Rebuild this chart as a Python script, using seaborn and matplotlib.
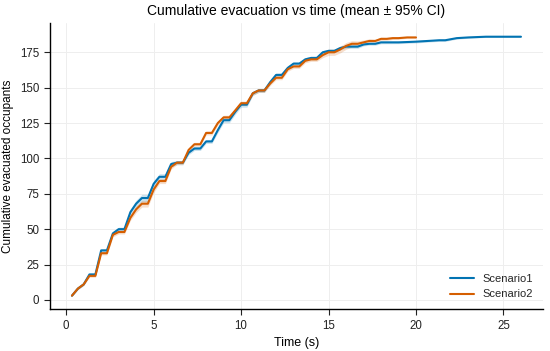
import numpy as np
import pandas as pd
import matplotlib
matplotlib.use("Agg")
import matplotlib.pyplot as plt
import seaborn as sns

# mean cumulative evacuated occupants
t1 = [0.33, 0.67, 1.0, 1.33, 1.67, 2.0, 2.33, 2.67, 3.0, 3.33, 3.67, 4.0, 4.33, 4.67,
      5.0, 5.33, 5.67, 6.0, 6.33, 6.67, 7.0, 7.33, 7.67, 8.0, 8.33, 8.67, 9.0, 9.33,
      9.67, 10.0, 10.33, 10.67, 11.0, 11.33, 11.67, 12.0, 12.33, 12.67, 13.0, 13.33,
      13.67, 14.0, 14.33, 14.67, 15.0, 15.33, 15.67, 16.0, 16.33, 16.67, 17.0, 17.33,
      17.67, 18.0, 19.0, 20.0, 20.67, 21.33, 21.67, 22.33, 23.0, 24.0, 25.0, 26.0]
s1 = [3, 8, 11, 18, 18, 35, 35, 47, 50, 50, 62, 68, 72, 72,
      82, 87, 87, 96, 97, 97, 104, 107, 107, 112, 112, 120, 127, 127,
      133, 138, 138, 146, 148, 148, 154, 159, 159, 164, 167, 167,
      170, 171, 171, 175, 176, 176, 178, 179, 179, 179, 180.5, 181,
      181, 182, 182, 182.5, 183, 183.5, 183.5, 185, 185.5, 186, 186, 186]
ci1 = [0.5, 0.7, 0.8, 1.0, 1.0, 1.2, 1.2, 1.4, 1.4, 1.4, 2.2, 2.5, 2.6, 2.6,
       2.4, 2.2, 2.2, 1.8, 1.5, 1.5, 1.4, 1.4, 1.4, 1.4, 1.4, 1.8, 1.8, 1.8,
       1.8, 1.8, 1.8, 1.5, 1.4, 1.4, 1.4, 1.4, 1.4, 1.2, 1.2, 1.2,
       1.2, 1.2, 1.2, 1.2, 1.2, 1.2, 1.2, 1.2, 1.2, 1.2, 1.0, 1.0,
       1.0, 1.0, 0.9, 0.9, 0.8, 0.8, 0.8, 0.7, 0.6, 0.5, 0.5, 0.5]

t2 = [0.33, 0.67, 1.0, 1.33, 1.67, 2.0, 2.33, 2.67, 3.0, 3.33, 3.67, 4.0, 4.33, 4.67,
      5.0, 5.33, 5.67, 6.0, 6.33, 6.67, 7.0, 7.33, 7.67, 8.0, 8.33, 8.67, 9.0, 9.33,
      9.67, 10.0, 10.33, 10.67, 11.0, 11.33, 11.67, 12.0, 12.33, 12.67, 13.0, 13.33,
      13.67, 14.0, 14.33, 14.67, 15.0, 15.33, 15.67, 16.0, 16.33, 16.67, 17.0, 17.33,
      17.67, 18.0, 18.33, 18.67, 19.0, 19.5, 20.0]
s2 = [3, 8, 11, 17, 17, 33, 33, 46, 48, 48, 58, 64, 68, 68,
      78, 84, 84, 94, 97, 97, 106, 110, 110, 118, 118, 125, 129, 129,
      134, 139, 139, 146, 148, 148, 153, 157, 157, 163, 165, 165,
      169, 170, 170, 173, 175, 175, 177, 179.5, 181, 181, 182, 183,
      183, 184.5, 184.5, 185, 185, 185.5, 185.5]
ci2 = [0.5, 0.7, 0.8, 1.0, 1.0, 1.2, 1.2, 1.4, 1.4, 1.4, 1.8, 2.2, 2.4, 2.4,
       2.2, 1.8, 1.8, 1.5, 1.4, 1.4, 1.4, 1.4, 1.4, 1.4, 1.4, 1.5, 1.5, 1.5,
       1.5, 1.5, 1.5, 1.4, 1.4, 1.4, 1.4, 1.4, 1.4, 1.4, 1.4, 1.4,
       1.4, 1.4, 1.4, 1.8, 2.2, 2.2, 2.4, 2.4, 2.2, 2.0, 1.7, 1.5,
       1.2, 1.1, 1.0, 0.9, 0.8, 0.6, 0.6]

names = ["Scenario1", "Scenario2"]
colors = ["#0173B2", "#D55E00"]

df = pd.concat([
    pd.DataFrame({"time": t1, "mean": s1, "ci": ci1, "scenario": names[0]}),
    pd.DataFrame({"time": t2, "mean": s2, "ci": ci2, "scenario": names[1]}),
])

sns.set_style("whitegrid")
plt.rcParams["font.family"] = ["Liberation Sans", "DejaVu Sans"]

fig, ax = plt.subplots(figsize=(5.5, 3.51), dpi=100)
sns.lineplot(data=df, x="time", y="mean", hue="scenario", palette=colors,
             linewidth=1.5, ax=ax, estimator=None)
for name, c in zip(names, colors):
    d = df[df["scenario"] == name]
    ax.fill_between(d["time"], d["mean"] - d["ci"], d["mean"] + d["ci"],
                    color=c, alpha=0.2, linewidth=0)

ax.set_title("Cumulative evacuation vs time (mean ± 95% CI)", fontsize=10, color="black")
ax.set_xlabel("Time (s)", fontsize=9, color="black")
ax.set_ylabel("Cumulative evacuated occupants", fontsize=8.5, color="black")
ax.set_yticks([0, 25, 50, 75, 100, 125, 150, 175])
ax.set_xticks([0, 5, 10, 15, 20, 25])
ax.tick_params(labelsize=8.3, length=4, width=0.8, colors="#222222", left=True, bottom=True)
ax.grid(color="#eeeeee", linewidth=0.7)
sns.despine(ax=ax)
for s in ["left", "bottom"]:
    ax.spines[s].set_color("black")
    ax.spines[s].set_linewidth(1.0)
ax.legend(loc="lower right", frameon=False, fontsize=8, title=None,
          handlelength=2.2)

fig.subplots_adjust(left=0.09, right=0.988, bottom=0.1185, top=0.9345)
fig.savefig("out.png", dpi=100)
